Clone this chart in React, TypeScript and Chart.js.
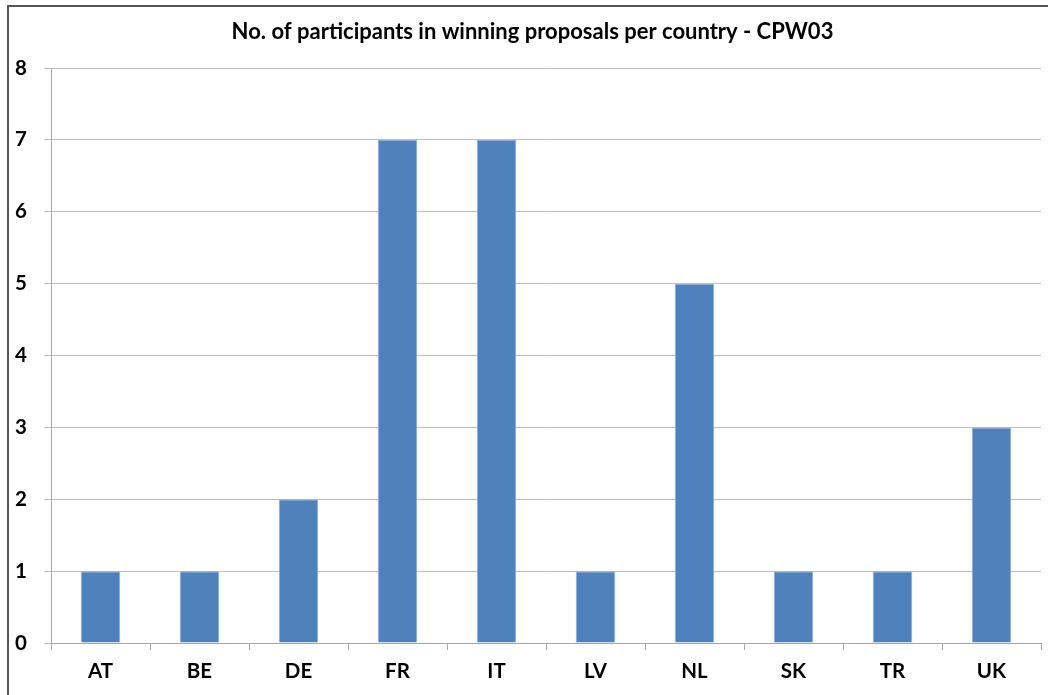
import React, { useEffect, useRef } from "react";
import { Chart, registerables } from "chart.js";

Chart.register(...registerables);

const titleText = "No. of participants in winning proposals per country - CPW03";
const countries = ["AT", "BE", "DE", "FR", "IT", "LV", "NL", "SK", "TR", "UK"];
const participants = [1, 1, 2, 7, 7, 1, 5, 1, 1, 3];
const yMin = 0;
const yMax = 8;
const yStep = 1;

const FONT = "Lato, 'Open Sans', 'Liberation Sans', sans-serif";

const titlePlugin = {
  id: "centeredTitle",
  afterDraw(chart: any) {
    const ctx = chart.ctx;
    ctx.save();
    ctx.font = `bold 22px ${FONT}`;
    ctx.fillStyle = "#000";
    ctx.textAlign = "center";
    ctx.textBaseline = "middle";
    ctx.fillText(titleText, 532.5, 32);
    ctx.restore();
  },
};

export default function App() {
  const ref = useRef<HTMLCanvasElement | null>(null);

  useEffect(() => {
    if (!ref.current) return;
    const chart = new Chart(ref.current, {
      type: "bar",
      data: {
        labels: countries,
        datasets: [
          {
            label: "Participants",
            data: participants,
            backgroundColor: "#4F81BD",
            borderColor: "#8EAEDC",
            borderWidth: 1,
            borderSkipped: "bottom",
            categoryPercentage: 1,
            barPercentage: 0.4,
          },
        ],
      },
      options: {
        responsive: false,
        animation: false,
        maintainAspectRatio: false,
        layout: { padding: { left: 0, right: 7, top: 68, bottom: 0 } },
        plugins: {
          legend: { display: false },
          tooltip: { enabled: false },
          title: { display: false },
        },
        scales: {
          x: {
            grid: {
              display: true,
              offset: true,
              drawOnChartArea: false,
              drawTicks: true,
              tickLength: 7,
              color: "#A6A6A6",
            },
            border: { display: true, color: "#A6A6A6" },
            ticks: {
              color: "#000",
              font: { family: FONT, size: 20.5, weight: "bold" },
              padding: 9,
              maxRotation: 0,
            },
            afterFit: (s: any) => {
              s.height = 52;
            },
          },
          y: {
            min: yMin,
            max: yMax,
            grid: {
              color: "#BFBFBF",
              tickLength: 7,
              drawTicks: true,
            },
            border: { display: true, color: "#A6A6A6" },
            ticks: {
              stepSize: yStep,
              color: "#000",
              font: { family: FONT, size: 20.5, weight: "bold" },
              padding: 17,
            },
            afterFit: (s: any) => {
              s.width = 51;
            },
          },
        },
      },
      plugins: [titlePlugin],
    });
    return () => chart.destroy();
  }, []);

  return (
    <div
      style={{
        position: "fixed",
        left: 0,
        top: 0,
        width: 1048,
        height: 695,
        overflow: "hidden",
        background: "#fff",
      }}
    >
      <canvas ref={ref} width={1048} height={695} style={{ position: "absolute", left: 0, top: 0 }} />
      <div
        style={{
          position: "absolute",
          left: 7,
          top: 5,
          width: 1100,
          height: 800,
          borderLeft: "2px solid #555",
          borderTop: "2px solid #555",
          pointerEvents: "none",
        }}
      />
    </div>
  );
}
